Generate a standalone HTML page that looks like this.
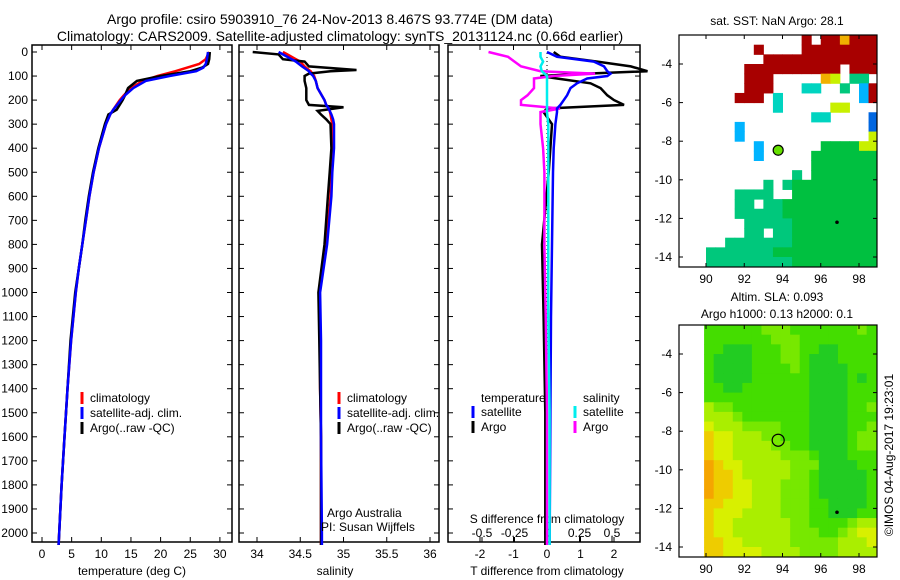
<!DOCTYPE html>
<html><head><meta charset="utf-8"><style>
body{margin:0;background:#fff;}
svg{display:block;font-family:"Liberation Sans",sans-serif;}
</style></head><body>
<svg id="c" width="900" height="580" viewBox="0 0 900 580">
<text x="330" y="24" font-size="14" text-anchor="middle">Argo profile: csiro 5903910_76 24-Nov-2013 8.467S 93.774E (DM data)</text>
<text x="340" y="41" font-size="14" text-anchor="middle">Climatology: CARS2009. Satellite-adjusted climatology: synTS_20131124.nc (0.66d earlier)</text>
<text transform="translate(893,455) rotate(-90)" font-size="12" text-anchor="middle">©IMOS 04-Aug-2017 19:23:01</text>
</svg>
<script>
// ---- profile data ----
const tDepth=[0,30,50,65,80,100,120,150,180,200,240,260,300,400,500,600,700,800,900,1000,1200,1400,1600,1800,2000,2050];
const tArgo=[28.3,28.2,28,27,25,20,16,14.5,14,13.6,12.6,11.2,10.6,9.5,8.6,7.9,7.3,6.8,6.2,5.6,4.8,4.3,3.8,3.3,2.9,2.8];
const tClim=[28.2,27.6,26.5,24.5,22.5,19.5,17,15,13.8,13.1,12,11.5,10.8,9.6,8.7,8,7.4,6.8,6.2,5.7,4.9,4.3,3.8,3.3,2.9,2.8];
const tSat=[28,27.8,27.6,27.2,26,21.5,17.5,15.4,14,13.3,12,11.5,10.8,9.6,8.7,8,7.4,6.8,6.2,5.7,4.9,4.3,3.8,3.3,2.9,2.8];
const sDepth=[0,10,30,40,60,75,80,90,100,120,150,200,220,230,245,260,280,300,400,500,600,800,1000,1200,1400,1600,2000,2050];
const sArgo=[33.95,34.25,34.3,34.55,34.6,35.15,34.85,34.6,34.55,34.55,34.57,34.57,34.6,35.0,34.7,34.74,34.8,34.85,34.86,34.84,34.82,34.78,34.71,34.72,34.73,34.74,34.74,34.74];
const sClim=[34.3,34.35,34.45,34.5,34.55,34.6,34.62,34.64,34.66,34.68,34.7,34.78,34.8,34.82,34.84,34.85,34.86,34.87,34.87,34.86,34.85,34.8,34.72,34.73,34.73,34.74,34.74,34.74];
const sSat=[34.25,34.3,34.4,34.45,34.52,34.58,34.6,34.62,34.65,34.68,34.7,34.78,34.8,34.82,34.84,34.86,34.88,34.89,34.89,34.87,34.86,34.81,34.73,34.74,34.74,34.74,34.75,34.75];
const dDepth=[0,20,40,60,80,90,100,110,130,150,180,200,220,235,250,300,400,500,800,1100,1500,2000,2050];
const dtArgo=[0.2,0.4,1.5,2.5,3,1.2,-0.2,0.3,1.3,1.6,1.8,2,2.3,0,-0.1,0.15,0.1,0.05,-0.15,-0.1,-0.05,-0.05,-0.05];
const dtSat=[0,0.3,1.4,1.7,1.8,1.9,1.8,1.2,0.9,0.7,0.6,0.5,0.4,0.3,0.3,0.25,0.2,0.18,0.15,0.12,0.1,0.08,0.08];
const dsArgo=[-0.45,-0.3,-0.25,-0.2,-0.05,0.37,0.05,-0.1,-0.1,-0.1,-0.15,-0.2,-0.2,0.1,-0.05,-0.05,-0.03,-0.02,-0.02,-0.01,0,0,0];
const dsSat=[-0.05,-0.05,-0.03,-0.05,-0.04,-0.02,0,0,0,0,0,0,0,0,0,0.01,0.01,0.01,0.01,0.01,0.02,0.02,0.02];
const depthTicks=[0,100,200,300,400,500,600,700,800,900,1000,1100,1200,1300,1400,1500,1600,1700,1800,1900,2000];
const tTicks=[0,5,10,15,20,25,30];
const sTicks=[34,34.5,35,35.5,36];
const dtTicks=[-2,-1,0,1,2];
const dsTicks=[-0.5,-0.25,0,0.25,0.5];
const latTicks=[-4,-6,-8,-10,-12,-14];
const lonTicks=[90,92,94,96,98];
// SST map grid rows (0.5 deg from lon 89, lat -2.5 downward)
const sstRows=["............r.rrorrr",".......r....rrrrrrrr","........rrrrrrrrrrrr","......rrrrrrrrrr.rrr","......rrr.....oy.cc.","......rrr...kk..c.br",".....rrr.k........br",".........k.....yy...",".............kk....B",".....b.............B",".....b.............y",".......b......ggggyy",".......b.....ggggggg",".............ggggggg","...........c.ggggggg","........c.cggggggggg",".....cccc..ggggggggg",".....cc.ccgggggggggg",".....cccccgggggggggg","......cccccggggggggg","......cc.ccggggggggg","....cccccccggggggggg","..cccccccggggggggggg","..cccccccccggggggggg"];
// SLA map grid rows (0.5 deg from lon 89.9)
const slaRows=["1111112221111111211","1111111222111111111","1100011122110011111","1000011122100011111","1000011112100001111","1000011111100001011","1100111111100001111","1111111111100001111","3221111111100001121","3332111111100001111","4333222211100001121","5443332211100001221","5443333221100001221","5443333322210001111","6544333332220000111","6554333332210000011","6554433322210000011","6554433322210000011","5544433322211000011","5444333322211000111","5443333332211112333","5443333332221123444","5544333332222233344","5544443333222233334"];
const argoLon=93.774, argoLat=-8.467;

const NS="http://www.w3.org/2000/svg";
const svg=document.getElementById('c');
function el(t,a,p){const e=document.createElementNS(NS,t);for(const k in a)e.setAttribute(k,a[k]);(p||svg).appendChild(e);return e;}
function txt(x,y,s,anchor,size,p){const e=el('text',{x:x,y:y,'font-size':size||12,'text-anchor':anchor||'middle'},p);e.textContent=s;return e;}
const yD=d=>52+d*0.2405;
const xT=t=>42+t*5.93;
const xS=s=>257+(s-34)*86.5;
const xDT=v=>547+v*33.5;
const xDS=v=>547+v*130;

function frame(x0,x1,name){
  const r=el('rect',{x:x0,y:45,width:x1-x0,height:497,fill:'none',stroke:'#000','stroke-width':1.5});
  
  
  depthTicks.forEach(d=>{el('line',{x1:x0,x2:x0+5,y1:yD(d),y2:yD(d),stroke:'#000'});el('line',{x1:x1,x2:x1-5,y1:yD(d),y2:yD(d),stroke:'#000'});});
}
function line(xs,ds,xf,color,name,w){
  const pts=xs.map((v,i)=>xf(v).toFixed(1)+','+yD(ds[i]).toFixed(1)).join(' ');
  const p=el('polyline',{points:pts,fill:'none',stroke:color,'stroke-width':w||2.5});
  
  
}
// Panel 1
frame(32,232,'temperature-panel');
depthTicks.forEach(d=>{const t=txt(28,yD(d)+4,String(d),'end',12);});
tTicks.forEach(v=>{el('line',{x1:xT(v),x2:xT(v),y1:542,y2:537,stroke:'#000'});el('line',{x1:xT(v),x2:xT(v),y1:45,y2:50,stroke:'#000'});const t=txt(xT(v),558,String(v));});
const tx=txt(132,575,'temperature (deg C)');
line(tClim,tDepth,xT,'#f00','temperature-climatology-line');
line(tArgo,tDepth,xT,'#000','temperature-argo-line');
line(tSat,tDepth,xT,'#00f','temperature-satellite-line');
function legend(x,y,items,name){
  const g=el('g',{});
  items.forEach((it,i)=>{el('line',{x1:x,x2:x,y1:y+i*15-10,y2:y+i*15+2,stroke:it[1],'stroke-width':3},g);txt(x+8,y+i*15,it[0],'start',12,g);});
}
legend(82,402,[['climatology','#f00'],['satellite-adj. clim.','#00f'],['Argo(..raw -QC)','#000']],'temperature-legend');
// Panel 2
frame(239,439,'salinity-panel');
sTicks.forEach(v=>{el('line',{x1:xS(v),x2:xS(v),y1:542,y2:537,stroke:'#000'});el('line',{x1:xS(v),x2:xS(v),y1:45,y2:50,stroke:'#000'});const t=txt(xS(v),558,String(v));});
const sx=txt(335,575,'salinity');
line(sClim,sDepth,xS,'#f00','salinity-climatology-line');
line(sArgo,sDepth,xS,'#000','salinity-argo-line');
line(sSat,sDepth,xS,'#00f','salinity-satellite-line');
legend(339,402,[['climatology','#f00'],['satellite-adj. clim.','#00f'],['Argo(..raw -QC)','#000']],'salinity-legend');
const aa=txt(327,517,'Argo Australia','start');
const pi=txt(321,531,'PI: Susan Wijffels','start');
// Panel 3
frame(448,640,'difference-panel');
dtTicks.forEach(v=>{el('line',{x1:xDT(v),x2:xDT(v),y1:542,y2:537,stroke:'#000'});el('line',{x1:xDT(v),x2:xDT(v),y1:45,y2:50,stroke:'#000'});const t=txt(xDT(v),558,String(v));});
dsTicks.forEach(v=>{el('line',{x1:xDS(v),x2:xDS(v),y1:542,y2:537,stroke:'#000'});const t=txt(xDS(v),537,String(v));});
const dt=txt(547,575,'T difference from climatology');
const ds=txt(547,523,'S difference from climatology');
el('line',{x1:547,x2:547,y1:45,y2:542,stroke:'#000','stroke-dasharray':'1,3'});
line(dtArgo,dDepth,xDT,'#000','t-diff-argo-line');
line(dsArgo,dDepth,xDS,'#f0f','s-diff-argo-line');
line(dtSat,dDepth,xDT,'#00f','t-diff-satellite-line');
line(dsSat,dDepth,xDS,'#0ee','s-diff-satellite-line');
const l3=el('g',{});
txt(481,402,'temperature','start',12,l3);txt(583,402,'salinity','start',12,l3);
[['satellite','#00f','#0ee'],['Argo','#000','#f0f']].forEach((it,i)=>{const y=416+i*15;el('line',{x1:473,x2:473,y1:y-10,y2:y+2,stroke:it[1],'stroke-width':3},l3);txt(481,y,it[0],'start',12,l3);el('line',{x1:575,x2:575,y1:y-10,y2:y+2,stroke:it[2],'stroke-width':3},l3);txt(583,y,it[0],'start',12,l3);});
// Maps
const sstCol={r:'#a80000',o:'#f0b000',y:'#c8f000',k:'#00d4c0',c:'#00c87c',g:'#00c040',b:'#00b4ff',B:'#0066e0'};
const slaCol=['#22cc22','#44dd00','#77e800','#aaee00','#d8f000','#eecc00','#f5a500'];
function map(top,rows,lon0,cols,name,filled,t1,t2){
  const L=679,R=877,T=top,B=top+232;
  const xL=l=>706+(l-90)*19.125, yL=a=>T+29+(-4-a)*19.3;
  const id='clip'+top;
  const cp=el('clipPath',{id:id});el('rect',{x:L,y:T,width:R-L,height:B-T},cp);
  const g=el('g',{'clip-path':'url(#'+id+')'});
  rows.forEach((row,ri)=>{for(let ci=0;ci<row.length;ci++){const ch=row[ci];const col=cols(ch);if(!col)continue;
    const lon=lon0+ci*0.5, lat=-2.5-ri*0.5;
    const cell=el('rect',{x:xL(lon),y:yL(lat),width:19.125*0.5+0.5,height:19.3*0.5+0.5,fill:col},g);
    
    }});
  el('circle',{cx:xL(96.85),cy:yL(-12.2),r:1.8,fill:'#000'},g);
  const r=el('rect',{x:L,y:T,width:R-L,height:B-T,fill:'none',stroke:'#000','stroke-width':1.2});
  
  latTicks.forEach(a=>{el('line',{x1:L,x2:L+4,y1:yL(a),y2:yL(a),stroke:'#000'});el('line',{x1:R,x2:R-4,y1:yL(a),y2:yL(a),stroke:'#000'});const t=txt(672,yL(a)+4,String(a),'end');});
  lonTicks.forEach(l=>{el('line',{x1:xL(l),x2:xL(l),y1:B,y2:B-4,stroke:'#000'});el('line',{x1:xL(l),x2:xL(l),y1:T,y2:T+4,stroke:'#000'});const t=txt(xL(l),B+16,String(l));});
  const c=el('circle',{cx:xL(argoLon),cy:yL(argoLat),r:filled?5:6,fill:filled?'#66e000':'none',stroke:'#000','stroke-width':1.2});
  
  const ta=txt(777,top-(t2?24:10),t1);
  if(t2){const tb=txt(777,top-7,t2);}
}
map(35,sstRows,89,ch=>sstCol[ch],'sst-map',true,'sat. SST: NaN Argo: 28.1');
map(325,slaRows,89.9,ch=>slaCol[+ch],'sla-map',false,'Altim. SLA: 0.093','Argo h1000: 0.13 h2000: 0.1');
</script>
</body></html>
